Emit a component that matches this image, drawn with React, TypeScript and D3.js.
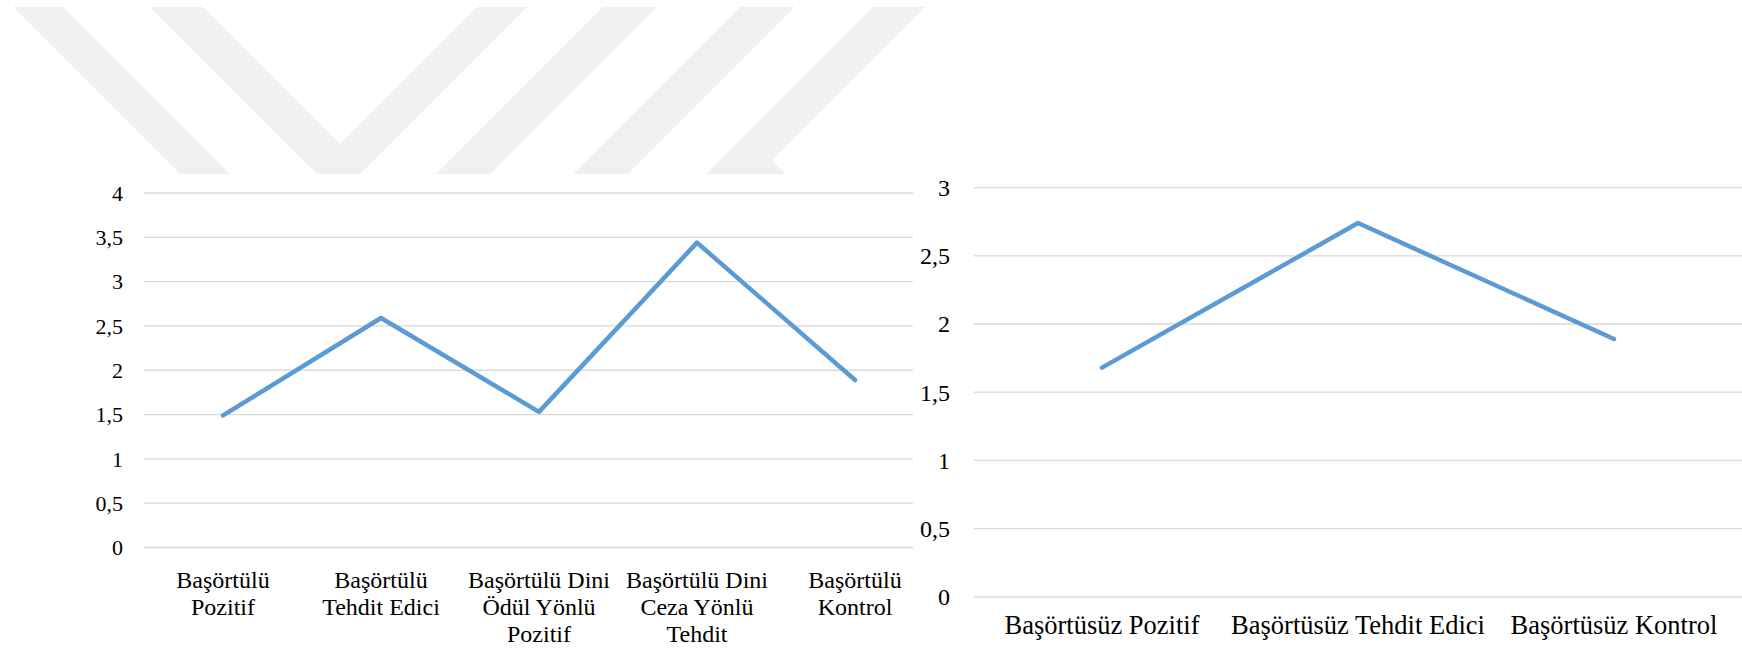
import React from "react";
import * as d3 from "d3";

// left chart (başörtülü)
const leftCategories = [
  "Başörtülü\nPozitif",
  "Başörtülü\nTehdit Edici",
  "Başörtülü Dini\nÖdül Yönlü\nPozitif",
  "Başörtülü Dini\nCeza Yönlü\nTehdit",
  "Başörtülü\nKontrol",
];
const leftValues = [1.49, 2.59, 1.53, 3.44, 1.89];
const leftTicks = [0, 0.5, 1, 1.5, 2, 2.5, 3, 3.5, 4];

// right chart (başörtüsüz)
const rightCategories = [
  "Başörtüsüz Pozitif",
  "Başörtüsüz Tehdit Edici",
  "Başörtüsüz Kontrol",
];
const rightValues = [1.68, 2.74, 1.89];
const rightTicks = [0, 0.5, 1, 1.5, 2, 2.5, 3];

// faint watermark stripes behind the top of the page
const watermark = [
  "13,7 63,7 230,174 180,174",
  "150,7 203,7 340,144 477,7 527,7 360,174 317,174",
  "603,7 657,7 490,174 436,174",
  "740,7 795,7 628,174 573,174",
  "873,7 925,7 772,160 786,174 706,174",
];

const W = 1742;
const H = 648;
const LINE = "#5b9bd5";
const GRID = "#d9d9d9";
const FONT = "'Liberation Serif', 'Times New Roman', serif";

const fmt = (v: number) => String(v).replace(".", ",");

interface PanelProps {
  categories: string[];
  values: number[];
  ticks: number[];
  x0: number;
  x1: number;
  yTop: number;
  yBottom: number;
  labelX: number;
  fontSize: number;
  catFontSize: number;
  catY: number;
  lineHeight: number;
}

const Panel: React.FC<PanelProps> = ({
  categories,
  values,
  ticks,
  x0,
  x1,
  yTop,
  yBottom,
  labelX,
  fontSize,
  catFontSize,
  catY,
  lineHeight,
}) => {
  const x = d3.scaleBand<string>().domain(categories).range([x0, x1]).padding(0);
  const y = d3
    .scaleLinear()
    .domain([0, d3.max(ticks) as number])
    .range([yBottom, yTop]);

  const line = d3
    .line<number>()
    .x((_, i) => (x(categories[i]) as number) + x.bandwidth() / 2)
    .y((d) => y(d));

  return (
    <g fontFamily={FONT} fill="#000">
      {ticks.map((t) => (
        <g key={t}>
          <line x1={x0} x2={x1} y1={y(t)} y2={y(t)} stroke={GRID} strokeWidth={1.3} />
          <text x={labelX} y={y(t)} dy="0.35em" textAnchor="end" fontSize={fontSize}>
            {fmt(t)}
          </text>
        </g>
      ))}
      <path
        d={line(values) || ""}
        fill="none"
        stroke={LINE}
        strokeWidth={4.5}
        strokeLinejoin="round"
        strokeLinecap="round"
      />
      {categories.map((c) => {
        const cx = (x(c) as number) + x.bandwidth() / 2;
        return (
          <text key={c} x={cx} y={catY} textAnchor="middle" fontSize={catFontSize}>
            {c.split("\n").map((part, i) => (
              <tspan key={i} x={cx} dy={i === 0 ? 0 : lineHeight}>
                {part}
              </tspan>
            ))}
          </text>
        );
      })}
    </g>
  );
};

export default function App() {
  return (
    <svg
      width={W}
      height={H}
      viewBox={`0 0 ${W} ${H}`}
      style={{ position: "absolute", left: 0, top: 0, background: "#fff" }}
    >
      <rect width={W} height={H} fill="#fff" />
      {watermark.map((p, i) => (
        <polygon key={i} points={p} fill="#f0f0f0" />
      ))}
      <Panel
        categories={leftCategories}
        values={leftValues}
        ticks={leftTicks}
        x0={144}
        x1={934}
        yTop={193}
        yBottom={547.5}
        labelX={123}
        fontSize={22}
        catFontSize={24}
        catY={588}
        lineHeight={27}
      />
      {/* the right chart sits on top and hides the left chart's right edge */}
      <rect x={913} y={150} width={W - 913} height={H - 150} fill="#fff" />
      <Panel
        categories={rightCategories}
        values={rightValues}
        ticks={rightTicks}
        x0={974}
        x1={1742}
        yTop={187.6}
        yBottom={596.8}
        labelX={950}
        fontSize={24}
        catFontSize={26.5}
        catY={634}
        lineHeight={27}
      />
    </svg>
  );
}
